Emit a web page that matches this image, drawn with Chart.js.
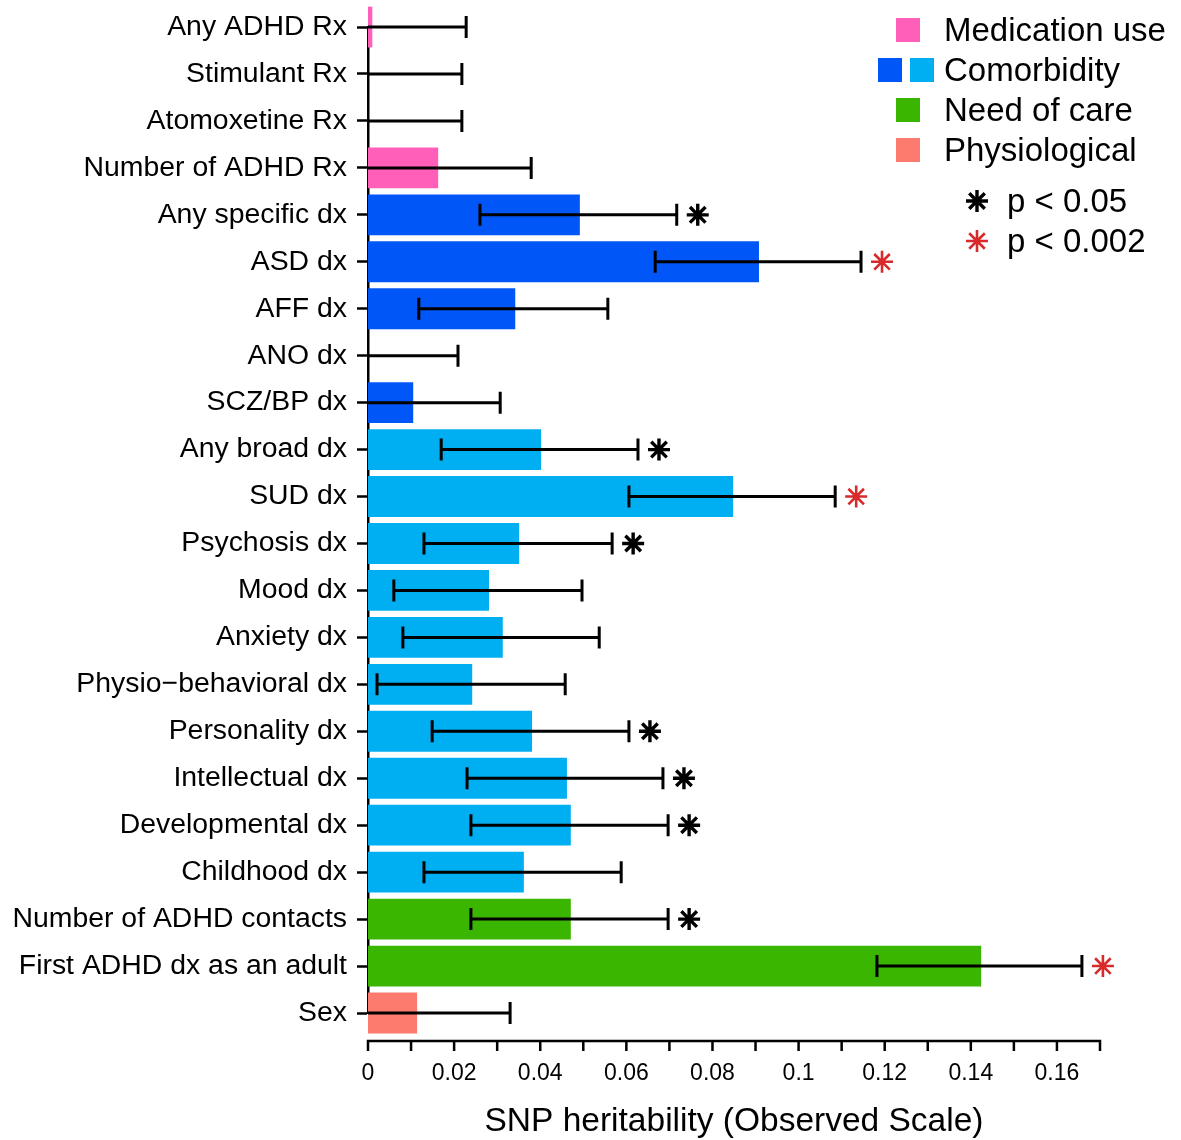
<!DOCTYPE html>
<html>
<head>
<meta charset="utf-8">
<script src="https://cdn.jsdelivr.net/npm/chart.js@4/dist/chart.umd.min.js"></script>
<style>
body { margin: 0; background: #fff; }
#wrap { width: 1181px; height: 1140px; }
</style>
</head>
<body>
<div id="wrap"><canvas id="myChart"></canvas></div>
<script>
const traits = ["Any ADHD Rx", "Stimulant Rx", "Atomoxetine Rx", "Number of ADHD Rx",
  "Any specific dx", "ASD dx", "AFF dx", "ANO dx", "SCZ/BP dx",
  "Any broad dx", "SUD dx", "Psychosis dx", "Mood dx", "Anxiety dx",
  "Physio\u2212behavioral dx", "Personality dx", "Intellectual dx", "Developmental dx",
  "Childhood dx", "Number of ADHD contacts", "First ADHD dx as an adult", "Sex"];
const h2Values = [0.001, 0, 0, 0.0163, 0.0492, 0.0908, 0.0342, 0, 0.0105,
  0.0402, 0.0848, 0.0351, 0.0281, 0.0313, 0.0242, 0.0381, 0.0462, 0.0471,
  0.0362, 0.0471, 0.1424, 0.0114];
const ciLow = [-0.021, -0.0218, -0.0218, -0.0053, 0.026, 0.0667, 0.0118, -0.0209, -0.0097,
  0.017, 0.0606, 0.013, 0.006, 0.0081, 0.0021, 0.0149, 0.023, 0.0239,
  0.013, 0.0239, 0.1182, -0.01];
const ciHigh = [0.0228, 0.0218, 0.0218, 0.0379, 0.0717, 0.1145, 0.0557, 0.0209, 0.0307,
  0.0627, 0.1085, 0.0567, 0.0497, 0.0537, 0.0458, 0.0606, 0.0685, 0.0697,
  0.0588, 0.0697, 0.1658, 0.033];
const groups = ["med", "med", "med", "med", "dx", "dx", "dx", "dx", "dx",
  "broad", "broad", "broad", "broad", "broad", "broad", "broad", "broad", "broad",
  "broad", "care", "care", "phys"];
// 0 = ns, 1 = p < 0.05, 2 = p < 0.002
const signif = [0, 0, 0, 0, 1, 2, 0, 0, 0, 1, 2, 1, 0, 0, 0, 1, 1, 1, 0, 1, 2, 0];
const tickLabels = ["0", "0.02", "0.04", "0.06", "0.08", "0.1", "0.12", "0.14", "0.16"];

const groupColors = {
  med: "#ff5fb8",
  dx: "#0056f7",
  broad: "#00aef2",
  care: "#3ab500",
  phys: "#fd7a6f"
};
const starRed = "#d8292b";
const FONT = "'Liberation Sans', Arial, Helvetica, sans-serif";

function drawStar(ctx, x, y, r, color, width) {
  ctx.save();
  ctx.strokeStyle = color;
  ctx.lineWidth = width;
  ctx.beginPath();
  for (let k = 0; k < 4; k++) {
    const a = k * Math.PI / 4;
    ctx.moveTo(x - r * Math.sin(a), y - r * Math.cos(a));
    ctx.lineTo(x + r * Math.sin(a), y + r * Math.cos(a));
  }
  ctx.stroke();
  ctx.restore();
}

// error bars + significance stars
const errorBars = {
  id: "errorBars",
  afterDatasetsDraw(chart) {
    const ctx = chart.ctx;
    const xs = chart.scales.x, ys = chart.scales.y;
    ctx.save();
    ctx.strokeStyle = "#000";
    ctx.lineWidth = 3;
    traits.forEach((t, i) => {
      const y = ys.getPixelForValue(i);
      const x1 = xs.getPixelForValue(Math.max(ciLow[i], 0));
      const x2 = xs.getPixelForValue(ciHigh[i]);
      ctx.beginPath();
      ctx.moveTo(x1, y);
      ctx.lineTo(x2, y);
      ctx.moveTo(x2, y - 11);
      ctx.lineTo(x2, y + 11);
      if (ciLow[i] > 0) {
        ctx.moveTo(x1, y - 11);
        ctx.lineTo(x1, y + 11);
      }
      ctx.stroke();
      if (signif[i] > 0) {
        const col = signif[i] === 2 ? starRed : "#000";
        drawStar(ctx, x2 + 21, y, 11, col, signif[i] === 2 ? 2.6 : 3.4);
      }
    });
    ctx.restore();
  }
};

// x axis sits detached below the last bar
const xAxisLine = {
  id: "xAxisLine",
  afterDraw(chart) {
    const ctx = chart.ctx;
    const xs = chart.scales.x;
    const y0 = chart.chartArea.bottom + 28;
    ctx.save();
    ctx.strokeStyle = "#000";
    ctx.lineWidth = 2.5;
    ctx.beginPath();
    ctx.moveTo(xs.getPixelForValue(xs.min) - 1.25, y0);
    ctx.lineTo(xs.getPixelForValue(xs.max) + 1.25, y0);
    xs.ticks.forEach(t => {
      const px = xs.getPixelForValue(t.value);
      ctx.moveTo(px, y0);
      ctx.lineTo(px, y0 + 10);
    });
    ctx.stroke();
    ctx.restore();
  }
};

const sideLegend = {
  id: "sideLegend",
  afterDraw(chart) {
    const ctx = chart.ctx;
    ctx.save();
    ctx.font = "33px " + FONT;
    ctx.textBaseline = "alphabetic";
    const rows = [
      { text: "Medication use", boxes: [[896, groupColors.med]], base: 41 },
      { text: "Comorbidity", boxes: [[878, groupColors.dx], [910, groupColors.broad]], base: 81 },
      { text: "Need of care", boxes: [[896, groupColors.care]], base: 121 },
      { text: "Physiological", boxes: [[896, groupColors.phys]], base: 161 }
    ];
    rows.forEach(r => {
      r.boxes.forEach(b => {
        ctx.fillStyle = b[1];
        ctx.fillRect(b[0], r.base - 23, 24, 24);
      });
      ctx.fillStyle = "#000";
      ctx.fillText(r.text, 944, r.base);
    });
    drawStar(ctx, 977, 201, 11, "#000", 3.4);
    ctx.fillStyle = "#000";
    ctx.fillText("p < 0.05", 1007, 212);
    drawStar(ctx, 977, 241, 11, starRed, 2.6);
    ctx.fillText("p < 0.002", 1007, 252);
    ctx.restore();
  }
};

new Chart("myChart", {
  type: "bar",
  data: {
    labels: traits,
    datasets: [{
      data: h2Values,
      backgroundColor: groups.map(g => groupColors[g]),
      borderWidth: 0,
      barPercentage: 0.87,
      categoryPercentage: 1,
      clip: false
    }]
  },
  options: {
    indexAxis: "y",
    responsive: true,
    maintainAspectRatio: false,
    animation: false,
    layout: { padding: { top: 22, right: 81, left: 0, bottom: 0 } },
    plugins: {
      legend: { display: false },
      tooltip: { enabled: false }
    },
    scales: {
      x: {
        type: "linear",
        min: 0,
        max: 0.17,
        afterFit: s => { s.height = 127; },
        grid: { display: false, drawTicks: false },
        border: { display: false },
        ticks: {
          stepSize: 0.01,
          padding: 47,
          color: "#000",
          font: { family: FONT, size: 23 },
          maxRotation: 0,
          autoSkip: false,
          callback: (v, i) => (i % 2 === 0 ? tickLabels[i / 2] : "")
        },
        title: {
          display: true,
          text: "SNP heritability (Observed Scale)",
          color: "#000",
          font: { family: FONT, size: 33.5, lineHeight: 1.1 },
          padding: { top: 0, bottom: 0 }
        }
      },
      y: {
        offset: false,
        afterFit: s => { s.width = 368; },
        grid: {
          offset: false,
          drawOnChartArea: false,
          tickLength: 11,
          tickWidth: 2.5,
          color: "#000"
        },
        border: { display: true, color: "#000", width: 2.5 },
        ticks: {
          padding: 10,
          color: "#000",
          autoSkip: false,
          font: { family: FONT, size: 28.4 }
        }
      }
    }
  },
  plugins: [errorBars, xAxisLine, sideLegend]
});
</script>
</body>
</html>
